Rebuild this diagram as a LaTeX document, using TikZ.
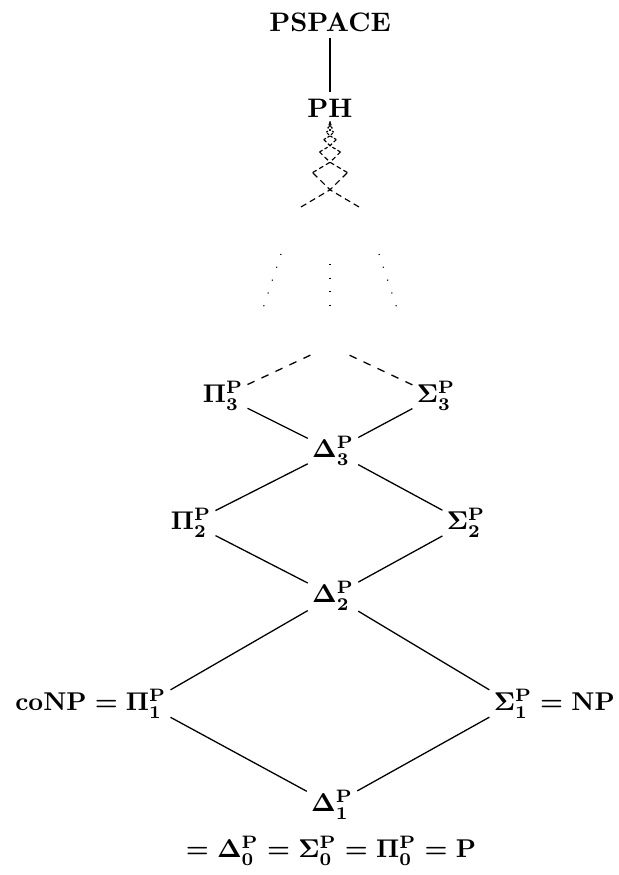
\documentclass[tikz,border=0pt]{standalone}
\begin{document}
\begin{tikzpicture}[
  x=0.3887pt, y=-0.3887pt,
  cls/.style={inner xsep=1.5pt, inner ysep=2.5pt, font=\fontsize{10.4}{12.5}\selectfont\boldmath},
  tag/.style={inner sep=0pt, font=\fontsize{10.4}{12.5}\selectfont\boldmath},
  link/.style={line width=0.5pt},
  hint/.style={link, dashed},
  dotline/.style={line width=0.45pt, dash pattern=on 0.4pt off 4.85pt},
  zig/.style={line width=0.45pt}
]
\useasboundingbox (0,0) rectangle (618,875);

% classes of the hierarchy
\node[cls] (pspace) at (330,22)  {\textbf{PSPACE}};
\node[cls] (ph)     at (330,108) {\textbf{PH}};
\node[cls] (pi3)    at (223,396) {$\Pi_3^{\mathbf{P}}$};
\node[cls] (sig3)   at (436,396) {$\Sigma_3^{\mathbf{P}}$};
\node[cls] (d3)     at (333,451) {$\Delta_3^{\mathbf{P}}$};
\node[cls] (pi2)    at (191,523) {$\Pi_2^{\mathbf{P}}$};
\node[cls] (sig2)   at (466,523) {$\Sigma_2^{\mathbf{P}}$};
\node[cls] (d2)     at (333,596) {$\Delta_2^{\mathbf{P}}$};
\node[cls] (pi1)    at (146,704) {$\Pi_1^{\mathbf{P}}$};
\node[cls] (sig1)   at (513,704) {$\Sigma_1^{\mathbf{P}}$};
\node[cls] (d1)     at (332,805) {$\Delta_1^{\mathbf{P}}$};
\node[tag, anchor=base east] (conp) at ([xshift=-1.2pt]pi1.base west) {$\mathbf{coNP} =$};
\node[tag, anchor=base west] (np)   at ([xshift=1.2pt]sig1.base east) {$= \mathbf{NP}$};
\node[tag] (d0) at (331,851) {$= \Delta_0^{\mathbf{P}} = \Sigma_0^{\mathbf{P}} = \Pi_0^{\mathbf{P}} = \mathbf{P}$};

% inclusions
\draw[link] (pspace) -- (ph);
\draw[link] (pi1) -- (d1) -- (sig1);
\draw[link] (pi1) -- (d2) -- (sig1);
\draw[link] (pi2) -- (d2) -- (sig2);
\draw[link] (pi2) -- (d3) -- (sig2);
\draw[link] (pi3) -- (d3) -- (sig3);

% the next level, only hinted at
\coordinate (d4) at (330,346);
\draw[hint, shorten >=7pt] (pi3) -- (d4);
\draw[hint, shorten >=7pt] (sig3) -- (d4);

% dots for the levels in between
\coordinate (dotl0) at (281,254); \coordinate (dotl1) at (263.5,307);
\coordinate (dotm0) at (330,264); \coordinate (dotm1) at (330,307);
\coordinate (dotr0) at (379,254); \coordinate (dotr1) at (396.5,307);
\draw[dotline] (dotl0) -- (dotl1);
\draw[dotline] (dotm0) -- (dotm1);
\draw[dotline] (dotr0) -- (dotr1);

% ever smaller levels closing in on PH
\foreach \j in {0,...,9} {
  \pgfmathsetmacro\ya{121+86*0.6^\j}
  \pgfmathsetmacro\yb{121+86*0.6^(\j+1)}
  \pgfmathsetmacro\wa{29*0.6^\j}
  \pgfmathsetmacro\wb{29*0.6^(\j+1)}
  \pgfmathsetmacro\ym{(\ya+\yb)/2}
  \pgfmathsetlengthmacro\zl{2.4pt*0.75^\j}
  \pgfmathsetlengthmacro\zg{1.6pt*0.75^\j}
  \draw[zig, dash pattern=on \zl off \zg]
    (330-\wa,\ya) -- (330,\ym) -- (330+\wb,\yb)
    (330+\wa,\ya) -- (330,\ym) -- (330-\wb,\yb);
}
\end{tikzpicture}
\end{document}
